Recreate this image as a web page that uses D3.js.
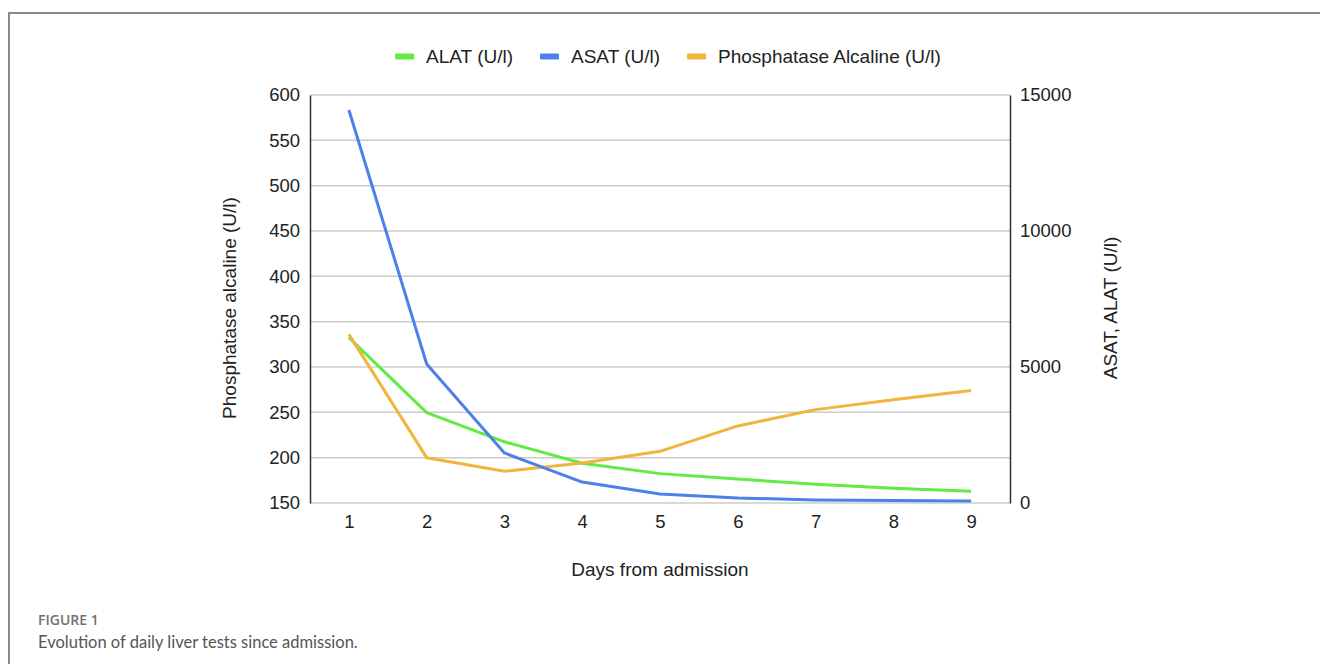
<!DOCTYPE html>
<html>
<head>
<meta charset="utf-8">
<script src="https://cdn.jsdelivr.net/npm/d3@7"></script>
<style>
  html, body { margin: 0; padding: 0; background: #fff; }
  svg { display: block; }
</style>
</head>
<body>
<svg id="chart" width="1320" height="664"></svg>
<script>
// ---- data ----
const days = [1, 2, 3, 4, 5, 6, 7, 8, 9];
const alat = [6080, 3320, 2250, 1460, 1080, 880, 690, 540, 430];
const asat = [14450, 5110, 1840, 770, 330, 185, 110, 90, 75];
const phosphatase = [336, 200, 185, 194, 207, 235, 253, 264, 274];
const leftTicks = [150, 200, 250, 300, 350, 400, 450, 500, 550, 600];
const rightTicks = [0, 5000, 10000, 15000];
const seriesNames = ["ALAT (U/l)", "ASAT (U/l)", "Phosphatase Alcaline (U/l)"];
const seriesColors = ["#62ea45", "#4d80e8", "#f2b53c"];

const svg = d3.select("#chart");
const font = "'Liberation Sans', Arial, sans-serif";

// frame
svg.append("line").attr("x1", 9).attr("x2", 1320).attr("y1", 13).attr("y2", 13)
  .attr("stroke", "#8a8a8a").attr("stroke-width", 2);
svg.append("line").attr("x1", 9).attr("x2", 9).attr("y1", 12).attr("y2", 664)
  .attr("stroke", "#8a8a8a").attr("stroke-width", 2);

const L = 310, R = 1010, T = 95, B = 503;

const x = d3.scalePoint().domain(days).range([L, R]).padding(0.5);
const yL = d3.scaleLinear().domain([150, 600]).range([B, T]);
const yR = d3.scaleLinear().domain([0, 15000]).range([B, T]);

// gridlines
svg.append("g").selectAll("line").data(leftTicks).join("line")
  .attr("x1", L).attr("x2", R)
  .attr("y1", d => yL(d)).attr("y2", d => yL(d))
  .attr("stroke", "#cccccc").attr("stroke-width", 1.5);

// left axis
const gL = svg.append("g").attr("transform", `translate(${L},0)`)
  .call(d3.axisLeft(yL).tickValues(leftTicks).tickSize(0).tickPadding(10));
gL.select(".domain").attr("stroke", "#333").attr("stroke-width", 1.5);
gL.selectAll("text").attr("font-family", font).attr("font-size", 18.5).attr("fill", "#222");

// right axis
const gR = svg.append("g").attr("transform", `translate(${R},0)`)
  .call(d3.axisRight(yR).tickValues(rightTicks).tickSize(0).tickPadding(10).tickFormat(d3.format("d")));
gR.select(".domain").attr("stroke", "#333").attr("stroke-width", 1.5);
gR.selectAll("text").attr("font-family", font).attr("font-size", 18.5).attr("fill", "#222");

// bottom axis (labels only)
const gB = svg.append("g").attr("transform", `translate(0,${B})`)
  .call(d3.axisBottom(x).tickSize(0).tickPadding(12));
gB.select(".domain").remove();
gB.selectAll("text").attr("font-family", font).attr("font-size", 18.5).attr("fill", "#222");

// lines
const lineL = d3.line().x((d, i) => x(days[i])).y(d => yL(d));
const lineR = d3.line().x((d, i) => x(days[i])).y(d => yR(d));
const plotted = [
  { vals: alat, gen: lineR, color: seriesColors[0] },
  { vals: phosphatase, gen: lineL, color: seriesColors[2] },
  { vals: asat, gen: lineR, color: seriesColors[1] }
];
svg.append("g").selectAll("path").data(plotted).join("path")
  .attr("d", d => d.gen(d.vals))
  .attr("fill", "none")
  .attr("stroke", d => d.color)
  .attr("stroke-width", 3)
  .attr("stroke-linejoin", "round");

// axis titles
svg.append("text").attr("transform", "translate(236,308) rotate(-90)")
  .attr("text-anchor", "middle").attr("font-family", font).attr("font-size", 19)
  .attr("fill", "#222").text("Phosphatase alcaline (U/l)");
svg.append("text").attr("transform", "translate(1117,308) rotate(-90)")
  .attr("text-anchor", "middle").attr("font-family", font).attr("font-size", 19)
  .attr("fill", "#222").text("ASAT, ALAT (U/l)");
svg.append("text").attr("x", 660).attr("y", 576)
  .attr("text-anchor", "middle").attr("font-family", font).attr("font-size", 19)
  .attr("fill", "#222").text("Days from admission");

// legend
const legend = svg.append("g");
const items = legend.selectAll("g").data(seriesNames).join("g");
items.append("rect").attr("width", 19).attr("height", 6).attr("rx", 1).attr("y", 53.5)
  .attr("fill", (d, i) => seriesColors[i]);
items.append("text").attr("x", 31).attr("y", 63)
  .attr("font-family", font).attr("font-size", 19).attr("fill", "#222")
  .text(d => d);
let cx = 0;
const widths = [];
items.each(function () { widths.push(this.querySelector("text").getComputedTextLength() + 31); });
const total = d3.sum(widths) + 27 * (widths.length - 1);
cx = 668 - total / 2;
items.attr("transform", (d, i) => {
  const t = `translate(${cx},0)`;
  cx += widths[i] + 27;
  return t;
});

// caption
svg.append("text").attr("x", 38).attr("y", 625)
  .attr("font-family", "'Open Sans', sans-serif").attr("font-weight", 600).attr("font-size", 14)
  .attr("fill", "#707070").text("FIGURE 1");
svg.append("text").attr("x", 38).attr("y", 648)
  .attr("font-family", "Lato, 'Open Sans', sans-serif").attr("font-size", 16.5)
  .attr("fill", "#555").text("Evolution of daily liver tests since admission.");
</script>
</body>
</html>
